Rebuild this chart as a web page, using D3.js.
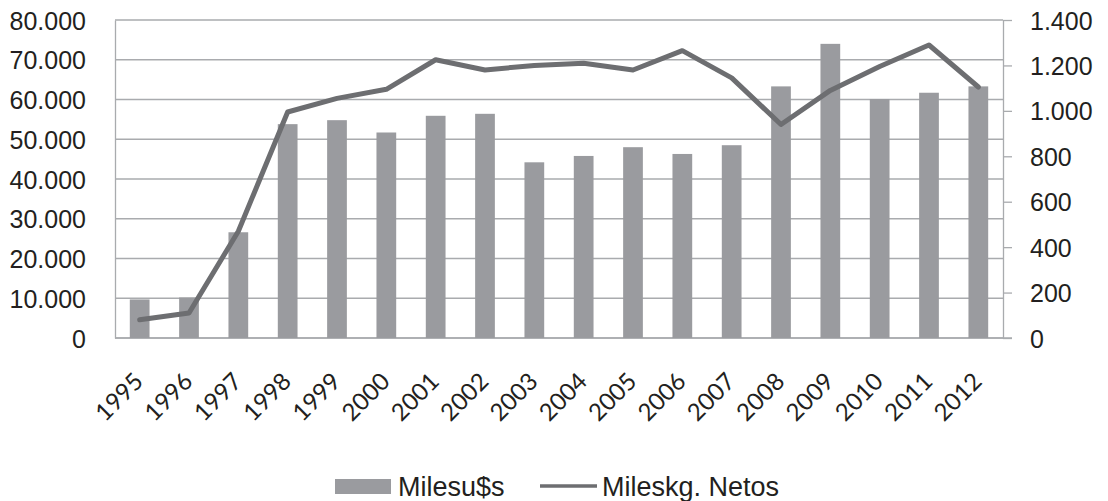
<!DOCTYPE html>
<html>
<head>
<meta charset="utf-8">
<script src="https://cdn.jsdelivr.net/npm/d3@7"></script>
<style>
  body { margin: 0; background: #fff; }
  text { font-family: "Liberation Sans", Arial, sans-serif; fill: #231f20; }
  .xlab { font-family: Lato, "Open Sans", sans-serif; }
</style>
</head>
<body>
<div id="container"></div>
<script>
/* DATA */
const years = ['1995','1996','1997','1998','1999','2000','2001','2002','2003',
  '2004','2005','2006','2007','2008','2009','2010','2011','2012'];
const milesUsd = [9700, 10200, 26600, 53800, 54800, 51700, 55900, 56400, 44200,
  45800, 48000, 46300, 48500, 63300, 74000, 60100, 61700, 63300];
const milesKg = [80, 110, 470, 995, 1055, 1095, 1225, 1180, 1200,
  1210, 1180, 1265, 1145, 940, 1090, 1195, 1290, 1105];
const leftTicks = [0, 10000, 20000, 30000, 40000, 50000, 60000, 70000, 80000];
const rightTicks = [0, 200, 400, 600, 800, 1000, 1200, 1400];
const seriesNames = ['Milesu$s', 'Mileskg. Netos'];

const width = 1108, height = 501,
  margin = { top: 20, bottom: 163, left: 115, right: 105 };

const barColor = '#9a9b9f', lineColor = '#6d6e71', gridColor = '#a9abae';

// es-style thousands separator: 80.000
const fmt = d => d3.format(',')(d).replace(/,/g, '.');

const svg = d3.select('#container')
  .append('svg')
  .attr('width', width)
  .attr('height', height);

svg.append('rect').attr('width', width).attr('height', height).attr('fill', '#fff');

const xScale = d3.scaleBand()
  .domain(years)
  .range([margin.left, width - margin.right])
  .paddingInner(0.6)
  .paddingOuter(0.3);

const yLeft = d3.scaleLinear()
  .domain([0, 80000])
  .range([height - margin.bottom, margin.top]);

const yRight = d3.scaleLinear()
  .domain([0, 1400])
  .range([height - margin.bottom, margin.top]);

const x0 = margin.left, x1 = width - margin.right;

// gridlines
svg.append('g')
  .selectAll('line')
  .data(leftTicks)
  .join('line')
  .attr('x1', x0).attr('x2', x1)
  .attr('y1', d => yLeft(d)).attr('y2', d => yLeft(d))
  .attr('stroke', gridColor)
  .attr('stroke-width', 1.3);

// left axis (labels only)
const leftAxis = svg.append('g')
  .attr('transform', `translate(${x0},0)`)
  .call(d3.axisLeft(yLeft).tickValues(leftTicks).tickFormat(fmt).tickSize(0).tickPadding(29));
leftAxis.select('.domain').attr('stroke', gridColor).attr('stroke-width', 1.3);
leftAxis.selectAll('text').attr('font-size', 25).attr('font-family', null).attr('dy', '0.36em');

// right axis
const rightAxis = svg.append('g')
  .attr('transform', `translate(${x1},0)`)
  .call(d3.axisRight(yRight).tickValues(rightTicks).tickFormat(fmt).tickSize(9).tickSizeOuter(0).tickPadding(18));
rightAxis.select('.domain').attr('stroke', gridColor).attr('stroke-width', 1.3);
rightAxis.selectAll('line').attr('stroke', gridColor).attr('stroke-width', 1.3);
rightAxis.selectAll('text').attr('font-size', 25).attr('font-family', null).attr('dy', '0.36em');

// bottom axis line
svg.append('line')
  .attr('x1', x0).attr('x2', x1 + 9)
  .attr('y1', yLeft(0)).attr('y2', yLeft(0))
  .attr('stroke', gridColor).attr('stroke-width', 1.5);

// bars
svg.append('g')
  .selectAll('rect.bar')
  .data(years)
  .join('rect')
  .attr('class', 'bar')
  .attr('x', d => xScale(d))
  .attr('width', xScale.bandwidth())
  .attr('y', (d, i) => yLeft(milesUsd[i]))
  .attr('height', (d, i) => yLeft(0) - yLeft(milesUsd[i]))
  .attr('fill', barColor);

// line
const line = d3.line()
  .x((d, i) => xScale(years[i]) + xScale.bandwidth() / 2)
  .y(d => yRight(d));

svg.append('path')
  .datum(milesKg)
  .attr('d', line)
  .attr('fill', 'none')
  .attr('stroke', lineColor)
  .attr('stroke-width', 5)
  .attr('stroke-linejoin', 'round')
  .attr('stroke-linecap', 'round');

// x labels rotated
svg.append('g')
  .selectAll('text.xlab')
  .data(years)
  .join('text')
  .attr('class', 'xlab')
  .attr('font-size', 24)
  .attr('text-anchor', 'end')
  .attr('transform', d => `translate(${xScale(d) + xScale.bandwidth() / 2 + 5},${yLeft(0) + 45}) rotate(-45)`)
  .text(d => d);

// legend
const legend = svg.append('g');
legend.append('rect')
  .attr('x', 335).attr('y', 479).attr('width', 56).attr('height', 15)
  .attr('fill', barColor);
legend.append('text')
  .attr('x', 398).attr('y', 496).attr('font-size', 27)
  .text(seriesNames[0]);
legend.append('line')
  .attr('x1', 540).attr('x2', 597).attr('y1', 486).attr('y2', 486)
  .attr('stroke', lineColor).attr('stroke-width', 3.5);
legend.append('text')
  .attr('x', 602).attr('y', 496).attr('font-size', 27)
  .text(seriesNames[1]);
</script>
</body>
</html>
